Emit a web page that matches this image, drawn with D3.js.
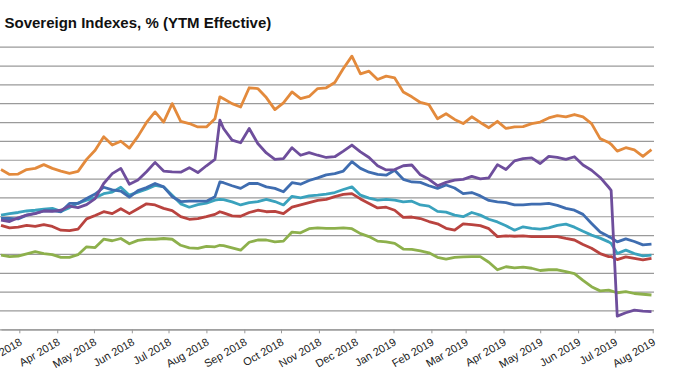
<!DOCTYPE html>
<html lang="en">
<head>
    <meta charset="UTF-8">
    <title>Sovereign Indexes, % (YTM Effective)</title>
    <script src="https://d3js.org/d3.v7.min.js"></script>
    <style>
        body {
            margin: 0;
            background-color: #ffffff;
            font-family: "Liberation Sans", Arial, sans-serif;
        }
        .title {
            font-size: 15px;
            font-weight: bold;
            fill: #111;
        }
        .x-axis text {
            font-size: 11px;
            fill: #222;
        }
    </style>
</head>
<body>
    <div id="chart"></div>

    <script>
        // Weekly observations (plus two extra days around the spike and the drop)
        const dates = [
            "2018-02-14", "2018-02-21", "2018-02-28", "2018-03-07", "2018-03-14", "2018-03-21", "2018-03-28",
            "2018-04-04", "2018-04-11", "2018-04-18", "2018-04-25", "2018-05-02", "2018-05-09", "2018-05-16",
            "2018-05-23", "2018-05-30", "2018-06-06", "2018-06-13", "2018-06-20", "2018-06-27", "2018-07-04",
            "2018-07-11", "2018-07-18", "2018-07-25", "2018-08-01", "2018-08-08", "2018-08-12", "2018-08-15",
            "2018-08-22", "2018-08-29", "2018-09-05", "2018-09-12", "2018-09-19", "2018-09-26", "2018-10-03",
            "2018-10-10", "2018-10-17", "2018-10-24", "2018-10-31", "2018-11-07", "2018-11-14", "2018-11-21",
            "2018-11-28", "2018-12-05", "2018-12-12", "2018-12-19", "2018-12-26", "2019-01-02", "2019-01-09",
            "2019-01-16", "2019-01-23", "2019-01-30", "2019-02-06", "2019-02-13", "2019-02-20", "2019-02-27",
            "2019-03-06", "2019-03-13", "2019-03-20", "2019-03-27", "2019-04-03", "2019-04-10", "2019-04-17",
            "2019-04-24", "2019-05-01", "2019-05-08", "2019-05-15", "2019-05-22", "2019-05-29", "2019-06-05",
            "2019-06-12", "2019-06-19", "2019-06-26", "2019-06-28", "2019-07-03", "2019-07-10", "2019-07-17",
            "2019-07-24", "2019-07-31"
        ];

        const orangeSeries = [
            4.24, 4.11, 4.12, 4.24, 4.27, 4.37, 4.27, 4.20, 4.14, 4.19, 4.51, 4.75, 5.11,
            4.89, 4.99, 4.81, 5.12, 5.49, 5.77, 5.50, 5.99, 5.52, 5.46, 5.37, 5.37, 5.59,
            6.17,
            6.12, 5.99, 5.90, 6.41, 6.39, 6.15, 5.83, 6.01, 6.30, 6.12, 6.18, 6.39, 6.41,
            6.55, 6.92, 7.25, 6.78, 6.85, 6.63, 6.72, 6.67, 6.30, 6.17, 6.02, 5.96, 5.59,
            5.72, 5.57, 5.46, 5.64, 5.49, 5.35, 5.52, 5.33, 5.37, 5.38, 5.46, 5.50, 5.61,
            5.67, 5.64, 5.70, 5.64, 5.46, 5.06, 4.96,
            4.91,
            4.73, 4.82, 4.76, 4.59, 4.77
        ];
        const purpleSeries = [
            2.90, 2.86, 2.96, 3.03, 3.07, 3.14, 3.13, 3.16, 3.27, 3.23, 3.31, 3.47, 3.87,
            4.13, 4.27, 3.85, 3.96, 4.18, 4.43, 4.20, 4.18, 4.17, 4.29, 4.16, 4.34, 4.51,
            5.55,
            5.33, 5.02, 4.95, 5.33, 4.93, 4.68, 4.51, 4.53, 4.82, 4.62, 4.69, 4.62, 4.56,
            4.58, 4.73, 4.89, 4.71, 4.56, 4.34, 4.23, 4.24, 4.34, 4.36, 4.10, 3.98, 3.81,
            3.90, 3.96, 3.98, 4.06, 3.99, 4.02, 4.37, 4.24, 4.47, 4.53, 4.55, 4.40, 4.59,
            4.56, 4.51, 4.58, 4.36, 4.22, 4.03, 3.77,
            3.69,
            0.35, 0.44, 0.51, 0.48, 0.47
        ];
        const blueSeries = [
            2.94, 2.94, 2.93, 3.03, 3.08, 3.14, 3.15, 3.12, 3.34, 3.34, 3.47, 3.59, 3.77,
            3.70, 3.67, 3.51, 3.68, 3.76, 3.87, 3.78, 3.52, 3.39, 3.40, 3.40, 3.40, 3.52,
            3.91,
            3.89, 3.81, 3.74, 3.87, 3.87, 3.78, 3.74, 3.65, 3.89, 3.85, 3.95, 4.02, 4.10,
            4.13, 4.20, 4.45, 4.27, 4.17, 4.11, 4.09, 4.22, 3.98, 3.91, 3.90, 3.81, 3.74,
            3.83, 3.75, 3.60, 3.63, 3.54, 3.42, 3.38, 3.36, 3.30, 3.30, 3.32, 3.32, 3.34,
            3.29, 3.21, 3.16, 3.05, 2.81, 2.58, 2.46,
            2.43,
            2.32, 2.40, 2.33, 2.24, 2.26
        ];
        const tealSeries = [
            3.03, 3.07, 3.10, 3.14, 3.16, 3.19, 3.21, 3.13, 3.23, 3.35, 3.43, 3.49, 3.60,
            3.64, 3.77, 3.56, 3.64, 3.72, 3.82, 3.78, 3.56, 3.33, 3.24, 3.31, 3.35, 3.43,
            3.45,
            3.44, 3.38, 3.30, 3.36, 3.39, 3.45, 3.39, 3.30, 3.53, 3.49, 3.54, 3.56, 3.59,
            3.63, 3.71, 3.78, 3.56, 3.48, 3.43, 3.45, 3.43, 3.38, 3.40, 3.30, 3.27, 3.13,
            3.11, 3.03, 2.99, 3.10, 3.03, 2.92, 2.85, 2.75, 2.63, 2.72, 2.68, 2.66, 2.69,
            2.76, 2.79, 2.71, 2.60, 2.50, 2.42, 2.32,
            2.28,
            2.01, 2.10, 2.01, 1.95, 1.97
        ];
        const redSeries = [
            2.76, 2.69, 2.71, 2.76, 2.73, 2.78, 2.73, 2.63, 2.62, 2.66, 2.93, 3.02, 3.12,
            3.07, 3.20, 3.07, 3.20, 3.33, 3.30, 3.21, 3.15, 2.99, 2.92, 2.94, 2.99, 3.05,
            3.12,
            3.09, 3.01, 3.00, 3.10, 3.16, 3.12, 3.13, 3.07, 3.24, 3.30, 3.36, 3.42, 3.45,
            3.52, 3.58, 3.60, 3.46, 3.34, 3.22, 3.24, 3.16, 2.97, 2.98, 2.94, 2.86, 2.80,
            2.68, 2.63, 2.80, 2.78, 2.75, 2.67, 2.46, 2.48, 2.47, 2.48, 2.46, 2.46, 2.46,
            2.46, 2.41, 2.37, 2.25, 2.15, 2.01, 1.93,
            1.93,
            1.85, 1.92, 1.88, 1.84, 1.88
        ];
        const greenSeries = [
            1.97, 1.93, 1.94, 2.00, 2.06, 2.01, 1.98, 1.91, 1.91, 1.98, 2.19, 2.17, 2.39,
            2.35, 2.41, 2.27, 2.36, 2.39, 2.39, 2.41, 2.39, 2.23, 2.16, 2.15, 2.20, 2.19,
            2.23,
            2.22, 2.16, 2.10, 2.31, 2.37, 2.37, 2.32, 2.34, 2.58, 2.56, 2.67, 2.69, 2.68,
            2.68, 2.69, 2.67, 2.54, 2.46, 2.34, 2.32, 2.28, 2.13, 2.12, 2.08, 2.03, 1.91,
            1.86, 1.91, 1.92, 1.93, 1.93, 1.78, 1.58, 1.66, 1.63, 1.65, 1.62, 1.56, 1.58,
            1.58, 1.53, 1.48, 1.30, 1.13, 1.02, 1.04,
            1.02,
            0.97, 1.00, 0.95, 0.93, 0.91
        ];

        // Gridline values (y labels sit off the left edge of the crop)
        const yTicks = [0, 0.5, 1, 1.5, 2, 2.5, 3, 3.5, 4, 4.5, 5, 5.5, 6, 6.5, 7, 7.5];

        // drawn bottom-up so purple/orange end up on top
        const series = [
            { values: greenSeries, color: "#8db04c" },
            { values: redSeries, color: "#b9433f" },
            { values: tealSeries, color: "#3aa2bd" },
            { values: blueSeries, color: "#3f6db0" },
            { values: purpleSeries, color: "#6e4e9c" },
            { values: orangeSeries, color: "#e38a3c" }
        ];

        const parse = d3.timeParse("%Y-%m-%d");
        const dateValues = dates.map(parse);

        const svgWidth = 700, svgHeight = 392;
        const margin = { top: 46.7, left: 0 };
        const plotWidth = 654;
        const plotHeight = 282.6;

        const svg = d3.select("#chart")
            .append("svg")
            .attr("width", svgWidth)
            .attr("height", svgHeight);

        svg.append("text")
            .attr("class", "title")
            .attr("x", 4.5)
            .attr("y", 28)
            .text("Sovereign Indexes, % (YTM Effective)");

        const g = svg.append("g")
            .attr("transform", `translate(${margin.left}, ${margin.top})`);

        const x = d3.scaleTime()
            .domain([parse("2018-02-14"), parse("2019-08-01")])
            .range([1, 652.7]);

        const y = d3.scaleLinear()
            .domain([0, 7.5])
            .range([plotHeight, 0]);

        // horizontal gridlines
        g.append("g")
            .call(d3.axisLeft(y).tickValues(yTicks).tickSize(-plotWidth).tickFormat(""))
            .call(ax => {
                ax.select(".domain").remove();
                ax.selectAll(".tick line")
                    .attr("stroke", "#9a9a9a")
                    .attr("stroke-width", 1.2);
            });

        // month axis
        g.append("g")
            .attr("class", "x-axis")
            .attr("transform", `translate(0, ${plotHeight})`)
            .call(d3.axisBottom(x)
                .ticks(d3.timeMonth.every(1))
                .tickSize(4)
                .tickSizeOuter(0)
                .tickFormat(d3.timeFormat("%b %Y")))
            .call(ax => {
                ax.select(".domain").attr("stroke", "#9a9a9a").attr("stroke-width", 1.2);
                ax.selectAll(".tick line").attr("stroke", "#9a9a9a");
                ax.selectAll(".tick text")
                    .attr("text-anchor", "end")
                    .attr("x", 0)
                    .attr("y", 0)
                    .attr("dy", 0)
                    .attr("transform", "translate(3, 15) rotate(-30)");
            });

        const line = d3.line()
            .x((d, i) => x(dateValues[i]))
            .y(d => y(d));

        g.selectAll(".series")
            .data(series)
            .enter()
            .append("path")
            .attr("class", "series")
            .attr("fill", "none")
            .attr("stroke", d => d.color)
            .attr("stroke-width", 2.8)
            .attr("stroke-linejoin", "round")
            .attr("d", d => line(d.values));
    </script>
</body>
</html>
